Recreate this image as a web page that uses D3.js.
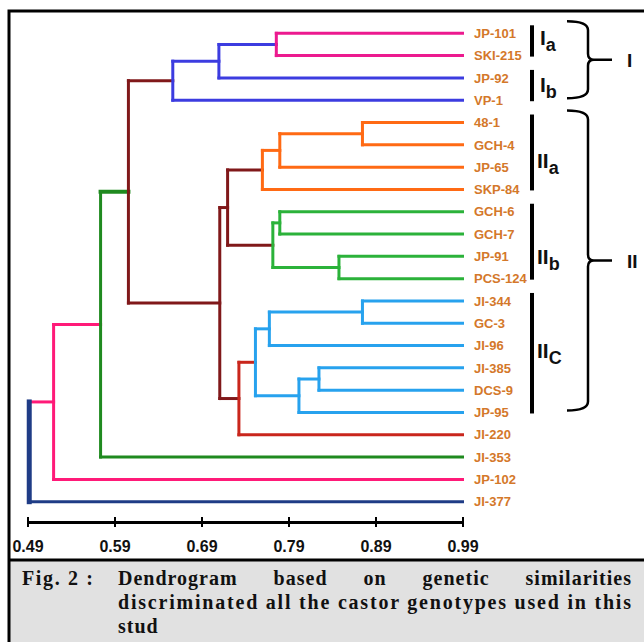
<!DOCTYPE html>
<html>
<head>
<meta charset="utf-8">
<title>Castor dendrogram</title>
<script src="https://cdn.jsdelivr.net/npm/d3@7"></script>
<style>
  body { margin: 0; background: #fff; }
  .leaf { font-family: 'Liberation Sans Narrow', 'Arial Narrow', 'Liberation Sans', sans-serif; font-weight: bold; font-size: 13px; fill: #d4782a; }
  .grp { font-family: 'Liberation Sans Narrow', 'Liberation Sans', sans-serif; font-weight: bold; fill: #111; }
  .cap { font-family: 'Liberation Serif', serif; font-weight: bold; font-size: 20px; fill: #111; letter-spacing: 1px; }
</style>
</head>
<body>
<svg width="644" height="642"></svg>
<script>
// leaves, top to bottom
var leaves = ['JP-101', 'SKI-215', 'JP-92', 'VP-1', '48-1', 'GCH-4', 'JP-65', 'SKP-84',
  'GCH-6', 'GCH-7', 'JP-91', 'PCS-124', 'JI-344', 'GC-3', 'JI-96', 'JI-385', 'DCS-9',
  'JP-95', 'JI-220', 'JI-353', 'JP-102', 'JI-377'];

// merges: [node, child a, child b, similarity]
var merges = [
  ['Ia', 'JP-101', 'SKI-215', 0.776],
  ['I1', 'Ia', 'JP-92', 0.710],
  ['I', 'I1', 'VP-1', 0.657],
  ['A1', '48-1', 'GCH-4', 0.875],
  ['A2', 'A1', 'JP-65', 0.780],
  ['IIa', 'A2', 'SKP-84', 0.760],
  ['B1', 'GCH-6', 'GCH-7', 0.780],
  ['B2', 'JP-91', 'PCS-124', 0.848],
  ['IIb', 'B1', 'B2', 0.772],
  ['AB', 'IIa', 'IIb', 0.720],
  ['C1', 'JI-344', 'GC-3', 0.875],
  ['C2', 'C1', 'JI-96', 0.768],
  ['C3', 'JI-385', 'DCS-9', 0.825],
  ['C4', 'C3', 'JP-95', 0.802],
  ['IIc', 'C2', 'C4', 0.752],
  ['CR', 'IIc', 'JI-220', 0.733],
  ['II', 'AB', 'CR', 0.711],
  ['I_II', 'I', 'II', 0.606],
  ['G', 'I_II', 'JI-353', 0.574],
  ['P', 'G', 'JP-102', 0.520],
  ['root', 'P', 'JI-377', 0.492]
];

var ticks = [0.49, 0.59, 0.69, 0.79, 0.89, 0.99];

// sub-groups: [label, subscript, first leaf, last leaf, label position (leaf index)]
var subGroups = [
  ['I', 'a', 'JP-101', 'SKI-215', 0.5],
  ['I', 'b', 'JP-92', 'VP-1', 2.6],
  ['II', 'a', '48-1', 'SKP-84', 6],
  ['II', 'b', 'GCH-6', 'PCS-124', 10.3],
  ['II', 'C', 'JI-344', 'JP-95', 14.5]
];
var mainGroups = [
  ['I', 'JP-101', 'VP-1'],
  ['II', '48-1', 'JP-95']
];

// colours of each node's vertical bar; horizontal links take the parent's colour
var magenta = '#ec1a8f', blue = '#3c3ce0', maroon = '#80181a', orange = '#ff6a14',
    green = '#2bb23a', sky = '#27a2ee', red = '#c9261c', dkgreen = '#1f8a1f',
    pink = '#ff1a78', navy = '#1f3c86';
var nodeColor = {
  Ia: magenta, I1: blue, I: blue, A1: orange, A2: orange, IIa: orange,
  B1: green, B2: green, IIb: green, AB: maroon, C1: sky, C2: sky, C3: sky, C4: sky,
  IIc: sky, CR: red, II: maroon, I_II: maroon, G: dkgreen, P: pink, root: navy
};
var linkOverride = { P: pink };

var svg = d3.select('svg');

// frame and caption box
svg.append('rect').attr('x', 9).attr('y', 561).attr('width', 640).attr('height', 90).attr('fill', '#e1e1e1');
svg.append('path').attr('d', 'M9,650V11H650').attr('fill', 'none').attr('stroke', '#000').attr('stroke-width', 3);
svg.append('line').attr('x1', 9).attr('x2', 650).attr('y1', 560).attr('y2', 560).attr('stroke', '#000').attr('stroke-width', 3);

var x = d3.scaleLinear().domain([0.49, 0.99]).range([27.5, 462.5]);
var yLeaf = d3.scalePoint().domain(leaves).range([33.3, 501.7]);
var yIdx = d3.scaleLinear().domain([0, leaves.length - 1]).range([33.3, 501.7]);

var nodes = new Map();
leaves.forEach(function(n) { nodes.set(n, { id: n }); });
merges.forEach(function(m) {
  nodes.set(m[0], { id: m[0], h: m[3], children: [nodes.get(m[1]), nodes.get(m[2])] });
});
var root = d3.hierarchy(nodes.get('root'));
root.eachAfter(function(d) {
  d.py = d.children ? d3.mean(d.children, function(c) { return c.py; }) : yLeaf(d.data.id);
  d.px = d.children ? x(d.data.h) : x(0.99);
});

var tree = svg.append('g').attr('fill', 'none').attr('stroke-linecap', 'square');

tree.selectAll('.h')
  .data(root.descendants().filter(function(d) { return d.parent; }))
  .enter().append('path')
  .attr('class', 'h')
  .attr('d', function(d) { return 'M' + d.parent.px + ',' + d.py + 'H' + d.px; })
  .attr('stroke', function(d) { return linkOverride[d.data.id] || nodeColor[d.parent.data.id]; })
  .attr('stroke-width', function(d) { return d.data.id === 'I_II' ? 4 : 3; });

tree.selectAll('.v')
  .data(root.descendants().filter(function(d) { return d.children; }))
  .enter().append('path')
  .attr('class', 'v')
  .attr('d', function(d) { return 'M' + d.px + ',' + d.children[0].py + 'V' + d.children[1].py; })
  .attr('stroke', function(d) { return nodeColor[d.data.id]; })
  .attr('stroke-width', function(d) { return d.data.id === 'root' ? 5 : 3; });

svg.selectAll('.leaf')
  .data(root.leaves())
  .enter().append('text')
  .attr('class', 'leaf')
  .attr('x', 474)
  .attr('y', function(d) { return d.py; })
  .attr('dy', '0.36em')
  .text(function(d) { return d.data.id; });

// axis
var axis = d3.axisBottom(x).tickValues(ticks).tickFormat(d3.format('.2f')).tickSizeInner(5).tickSizeOuter(0);
var ag = svg.append('g').attr('transform', 'translate(0,522)').call(axis);
ag.attr('font-family', "'Liberation Sans Narrow', 'Liberation Sans', sans-serif")
  .attr('font-size', 16).attr('font-weight', 'bold');
ag.select('.domain').attr('stroke-width', 3);
ag.selectAll('.tick line').attr('y1', -5).attr('y2', 5).attr('stroke-width', 2);
ag.selectAll('.tick text').attr('y', 30).attr('dy', null).attr('fill', '#111');

// sub-group bars and labels
var sg = svg.selectAll('.sg').data(subGroups).enter().append('g').attr('class', 'sg');
sg.append('line')
  .attr('x1', 532).attr('x2', 532)
  .attr('y1', function(d) { return yLeaf(d[2]) - 8; })
  .attr('y2', function(d) { return yLeaf(d[3]) + 1; })
  .attr('stroke', '#000').attr('stroke-width', 4);
var sgt = sg.append('text').attr('class', 'grp')
  .attr('x', function(d) { return d[0].length === 1 ? 540 : 537; })
  .attr('y', function(d) { return yIdx(d[4]) + 1; })
  .attr('font-size', 21);
sgt.append('tspan').text(function(d) { return d[0]; });
sgt.append('tspan').attr('dy', 6).attr('font-size', 18).text(function(d) { return d[1]; });

// braces
var mg = svg.selectAll('.mg').data(mainGroups).enter().append('g').attr('class', 'mg');
mg.append('path')
  .attr('fill', 'none').attr('stroke', '#000').attr('stroke-width', 2.5)
  .attr('d', function(d) {
    var t = yLeaf(d[1]) - 12, b = yLeaf(d[2]) - 2, m = (t + b) / 2;
    return 'M567,' + t + 'Q588,' + t + ' 588,' + (t + 9) + 'V' + (m - 6) +
      'Q588,' + m + ' 594,' + m + 'H612' +
      'M594,' + m + 'Q588,' + m + ' 588,' + (m + 6) + 'V' + (b - 9) +
      'Q588,' + b + ' 567,' + b;
  });
mg.append('text').attr('class', 'grp')
  .attr('x', 627)
  .attr('y', function(d) { return (yLeaf(d[1]) - 12 + yLeaf(d[2]) - 2) / 2 + 7; })
  .attr('font-size', 19)
  .text(function(d) { return d[0]; });

// caption
svg.append('text').attr('class', 'cap').attr('x', 22).attr('y', 585)
  .attr('textLength', 72).attr('lengthAdjust', 'spacing').text('Fig. 2 :');
var words = ['Dendrogram', 'based', 'on', 'genetic', 'similarities'];
var wt = svg.selectAll('.w').data(words).enter().append('text')
  .attr('class', 'cap w').attr('y', 585).text(function(d) { return d; });
var widths = [];
wt.each(function() { widths.push(this.getComputedTextLength()); });
var gap = (514 - d3.sum(widths)) / (words.length - 1);
var cx = 118;
wt.attr('x', function(d, i) { var p = cx; cx += widths[i] + gap; return p; });
svg.append('text').attr('class', 'cap').attr('x', 118).attr('y', 609)
  .attr('textLength', 514).attr('lengthAdjust', 'spacing')
  .text('discriminated all the castor genotypes used in this');
svg.append('text').attr('class', 'cap').attr('x', 118).attr('y', 633).text('stud');
</script>
</body>
</html>
